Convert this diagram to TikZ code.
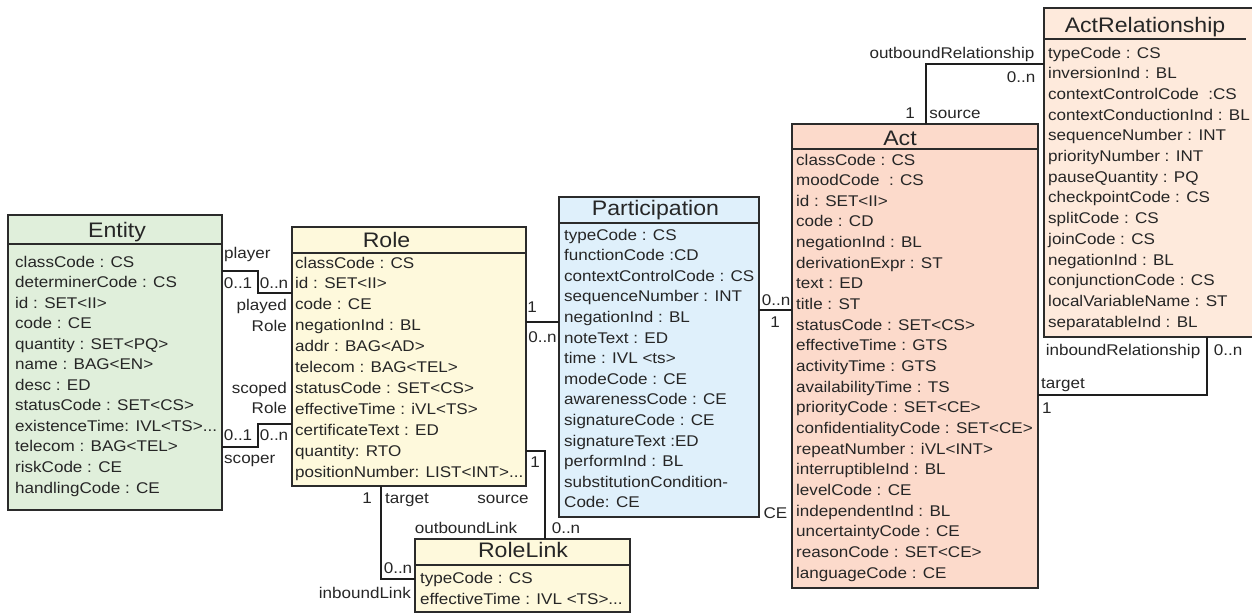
\documentclass[tikz,border=0pt]{standalone}
\usepackage{fontspec}
\setmainfont{Liberation Sans}[FakeStretch=1.1]

\definecolor{entityfill}{HTML}{E0EFDB}
\definecolor{rolefill}{HTML}{FEF9DC}
\definecolor{partfill}{HTML}{DFF0FB}
\definecolor{actfill}{HTML}{FCDACB}
\definecolor{actrelfill}{HTML}{FEEADC}
\definecolor{boxline}{HTML}{2B2B2B}
\definecolor{connline}{HTML}{1E1E1E}
\definecolor{txt}{HTML}{262626}

\tikzset{
  umlbox/.style={draw=boxline, line width=1.8pt, inner sep=0pt, outer sep=0pt, anchor=north west},
  sepline/.style={draw=boxline, line width=1.8pt},
  classtitle/.style={font=\fontsize{21}{24}\selectfont, text=txt, anchor=base, inner sep=0pt},
  attr/.style={font=\fontsize{15.5}{18}\selectfont, text=txt, anchor=base west, inner sep=0pt},
  lbl/.style={font=\fontsize{15.5}{18}\selectfont, text=txt, anchor=base, inner sep=0pt},
  lblL/.style={lbl, anchor=base west},
  lblR/.style={lbl, anchor=base east},
  conn/.style={draw=connline, line width=1.5pt},
}

% three trailing dots, kept out of sight of \foreach
\newcommand\trail{...}
% class box: name, fill, x1, y1, x2, y2, y of header separator
\newcommand\classbox[7]{%
  \node[umlbox, fill=#2, minimum width={#5-#3}, minimum height={#6-#4}] (#1) at (#3,#4) {};
  \draw[sepline] (#1.west |- 0,#7) -- (#1.east |- 0,#7);
}
% attribute list: prefix, x, first baseline, line pitch, items
\newcommand\attrlist[5]{%
  \foreach \t [count=\i] in {#5}{\node[attr] (#1-a\i) at ({#2},{#3+(\i-1)*#4}) {\t};}
}

\begin{document}
\begin{tikzpicture}[x=1pt,y=-1pt]
\useasboundingbox (0,0) rectangle (1252,614);
\clip (0,0) rectangle (1252,614);

% ---------- classes ----------
\classbox{entity}{entityfill}{8}{215}{222}{510}{244}
\node[classtitle] (entity-t) at (117,237.5) {Entity};
\attrlist{entity}{15}{267}{20.55}{classCode : CS, determinerCode : CS, id : SET<II>, code : CE,
  quantity : SET<PQ>, name : BAG<EN>, desc : ED, statusCode : SET<CS>,
  existenceTime: IVL<TS>\trail, telecom : BAG<TEL>, riskCode : CE, handlingCode : CE}

\classbox{role}{rolefill}{292}{227}{526}{486}{253}
\node[classtitle] (role-t) at (386.5,247.5) {Role};
\attrlist{role}{295}{268}{20.9}{classCode : CS, id : SET<II>, code : CE, negationInd : BL,
  addr : BAG<AD>, telecom : BAG<TEL>, statusCode : SET<CS>, effectiveTime : iVL<TS>,
  certificateText : ED, quantity: RTO, positionNumber: LIST<INT>\trail}

\classbox{part}{partfill}{559}{197}{759}{517}{223}
\node[classtitle] (part-t) at (655.5,215.5) {Participation};
\attrlist{part}{564}{240}{20.6}{typeCode : CS, functionCode :CD, contextControlCode : CS,
  sequenceNumber : INT, negationInd : BL, noteText : ED, time : IVL <ts>, modeCode : CE,
  awarenessCode : CE, signatureCode : CE, signatureText :ED, performInd : BL,
  substitutionCondition-, Code: CE}

\classbox{act}{actfill}{792}{124}{1038}{588}{149}
\node[classtitle] (act-t) at (900,145.5) {Act};
\attrlist{act}{796}{165}{20.65}{classCode : CS, moodCode\ \ : CS, id : SET<II>, code : CD,
  negationInd : BL, derivationExpr : ST, text : ED, title : ST, statusCode : SET<CS>,
  effectiveTime : GTS, activityTime : GTS, availabilityTime : TS, priorityCode : SET<CE>,
  confidentialityCode : SET<CE>, repeatNumber : iVL<INT>, interruptibleInd : BL,
  levelCode : CE, independentInd : BL, uncertaintyCode : CE, reasonCode : SET<CE>,
  languageCode : CE}

\node[umlbox, fill=actrelfill, minimum width=220, minimum height=329] (actrel) at (1044,8) {};
\draw[sepline] (actrel.west |- 0,39) -- (1246,39);
\node[classtitle] (actrel-t) at (1145,32.5) {ActRelationship};
\attrlist{actrel}{1048}{58}{20.7}{typeCode : CS, inversionInd : BL, contextControlCode\ \ :CS,
  contextConductionInd : BL, sequenceNumber : INT, priorityNumber : INT, pauseQuantity : PQ,
  checkpointCode : CS, splitCode : CS, joinCode : CS, negationInd : BL, conjunctionCode : CS,
  localVariableName : ST, separatableInd : BL}

\classbox{rolelink}{rolefill}{415}{539}{630}{612}{565}
\node[classtitle] (rolelink-t) at (523,557.5) {RoleLink};
\attrlist{rolelink}{420}{583}{21.5}{typeCode : CS, effectiveTime : IVL <TS>\trail}

% ---------- associations ----------
\draw[conn] (entity.east |- 0,271) -| (258,293) -- (role.west |- 0,293);
\draw[conn] (entity.east |- 0,447) -| (258,424) -- (role.west |- 0,424);
\draw[conn] (role.east |- 0,322) -- (part.west |- 0,322);
\draw[conn] (part.east |- 0,310) -- (act.west |- 0,310);
\draw[conn] (role.east |- 0,451) -| (rolelink.north -| 545,0);
\draw[conn] (role.south -| 381,0) |- (rolelink.west |- 0,579);
\draw[conn] (act.north -| 926,0) |- (actrel.west |- 0,64);
\draw[conn] (actrel.south -| 1207,0) |- (act.east |- 0,395);

% ---------- association end labels ----------
\node[lblL] (l-player) at (224,258) {player};
\node[lbl] (l-p01) at (238,288) {0..1};
\node[lbl] (l-p0n) at (274,288) {0..n};
\node[lblR] (l-played) at (287,310) {played};
\node[lblR] (l-playedrole) at (287,331) {Role};
\node[lblR] (l-scoped) at (287,393) {scoped};
\node[lblR] (l-scopedrole) at (287,413) {Role};
\node[lbl] (l-s01) at (238,440) {0..1};
\node[lbl] (l-s0n) at (274,440) {0..n};
\node[lblL] (l-scoper) at (224,463) {scoper};

\node[lbl] (l-rp1) at (532,312) {1};
\node[lbl] (l-rp0n) at (542.5,342) {0..n};
\node[lbl] (l-pa0n) at (776,305) {0..n};
\node[lbl] (l-pa1) at (775,327) {1};
\node[lbl] (l-ce) at (775.5,518) {CE};

\node[lbl] (l-src1) at (535,467) {1};
\node[lbl] (l-src) at (503,503) {source};
\node[lbl] (l-outlink) at (466,533) {outboundLink};
\node[lbl] (l-out0n) at (566,533) {0..n};
\node[lbl] (l-tgt1) at (367,503) {1};
\node[lbl] (l-tgt) at (407,503) {target};
\node[lbl] (l-in0n) at (398,573) {0..n};
\node[lblR] (l-inlink) at (411,598) {inboundLink};

\node[lbl] (l-outrel) at (952,58) {outboundRelationship};
\node[lbl] (l-outrel0n) at (1021,82) {0..n};
\node[lbl] (l-actsrc1) at (910,118) {1};
\node[lbl] (l-actsrc) at (955,118) {source};
\node[lbl] (l-inrel) at (1123,355) {inboundRelationship};
\node[lbl] (l-inrel0n) at (1228,355) {0..n};
\node[lblL] (l-acttgt) at (1041,388) {target};
\node[lblL] (l-acttgt1) at (1042,413) {1};
\end{tikzpicture}
\end{document}
